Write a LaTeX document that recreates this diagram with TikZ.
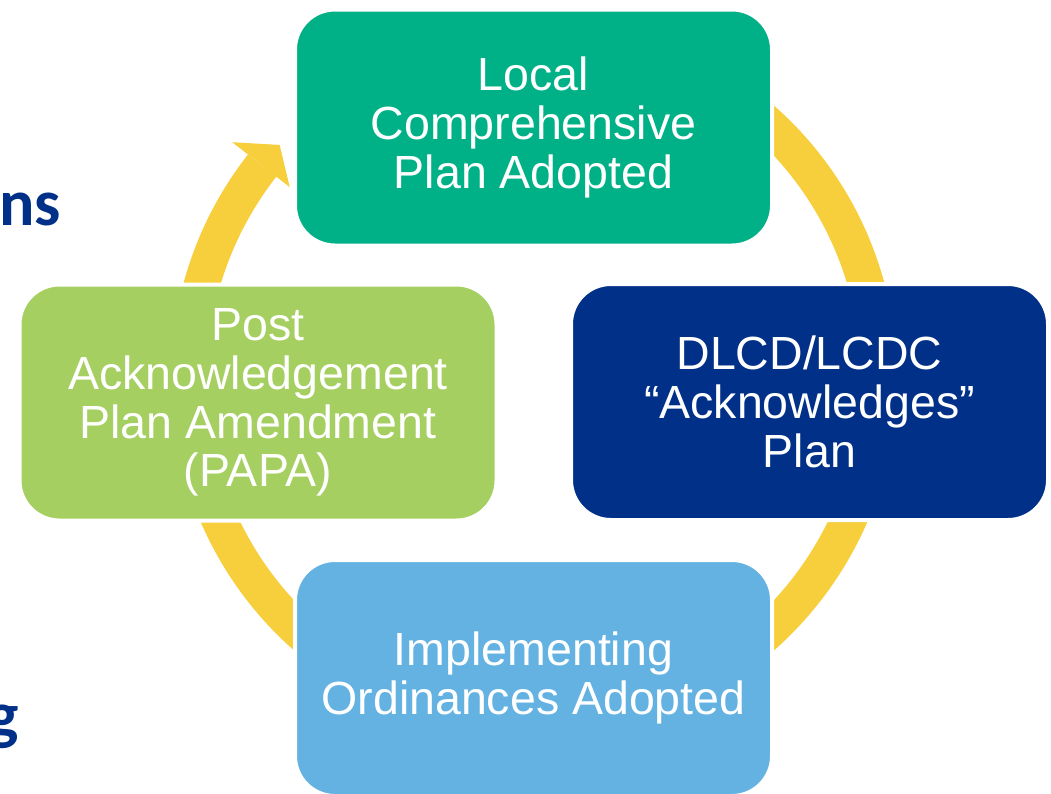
\documentclass[tikz,border=0pt]{standalone}
\usepackage{fontspec}
\setmainfont{Liberation Sans}
\newfontfamily\calibri{Carlito}
\definecolor{cgreen}{RGB}{0,177,136}
\definecolor{cnavy}{RGB}{0,48,135}
\definecolor{clgreen}{RGB}{165,207,97}
\definecolor{clblue}{RGB}{99,178,226}
\definecolor{cyellow}{RGB}{247,206,60}
\begin{document}
\begin{tikzpicture}[x=1pt,y=-1pt,
  stagebox/.style={rounded corners=40pt, draw=white, line width=4pt,
    minimum width=477pt, minimum height=236pt, inner sep=0pt,
    text=white, align=center,
    font=\fontsize{46.5}{48.7}\selectfont},
  sidetext/.style={text=cnavy, inner sep=0pt,
    font=\calibri\bfseries\fontsize{66}{70}\selectfont}]
\useasboundingbox (0,0) rectangle (1051,793);
\clip (0,0) rectangle (1051,793);
% background partial text
\node[sidetext, anchor=base east] (tplans) at (61,225) {ns};
\node[sidetext, anchor=base east] (tzoning) at (19,737) {g};
% ring with arrowhead
\begin{scope}[shift={(534,378)}]
  \draw[cyellow, line width=36pt] (-142:345) arc[start angle=-142, end angle=-460, radius=345];
  \fill[cyellow] (-142:362) -- (-142:383) -- (-137.5:345) -- (-142:310) -- (-142:328) -- cycle;
\end{scope}
% stages
\node[stagebox, fill=cgreen] (local) at (533.5,127.5) {Local\\Comprehensive\\Plan Adopted};
\node[stagebox, fill=cnavy] (ack) at (809.5,402) {DLCD/LCDC\\“Acknowledges”\\Plan};
\node[stagebox, fill=clblue] (impl) at (533.5,678) {Implementing\\Ordinances Adopted};
\node[stagebox, fill=clgreen] (papa) at (258,402.5) {Post\\Acknowledgement\\Plan Amendment\\(PAPA)};
\end{tikzpicture}
\end{document}
